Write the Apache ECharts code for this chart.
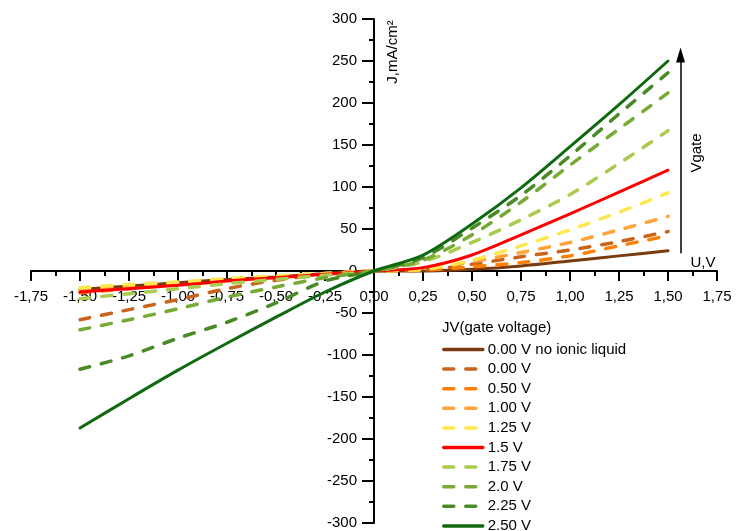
<!DOCTYPE html>
<html>
<head>
<meta charset="utf-8">
<script src="https://cdn.jsdelivr.net/npm/echarts@6/dist/echarts.min.js"></script>
<style>html,body{margin:0;padding:0;background:#fff}#c{width:736px;height:531px}</style>
</head>
<body>
<div id="c"></div>
<script>
// Voltage U (V)
var voltages = [-1.5, -1.25, -1.0, -0.75, -0.5, -0.25, 0, 0.25, 0.5, 0.75, 1.0, 1.25, 1.5];
// Current density J (mA/cm^2) per gate voltage
var seriesNames = ['0.00 V no ionic liquid', '0.00 V', '0.50 V', '1.00 V', '1.25 V', '1.5 V', '1.75 V', '2.0 V', '2.25 V', '2.50 V'];
var jNoIL  = [-22, -18, -14, -10, -7, -3, 0, 0, 2, 6, 12, 18, 24];
var j000   = [-58, -46, -34, -21, -11, -4, 0, 1, 8, 17, 25, 35, 47];
var j050   = [-26, -21, -16, -11, -7, -3, 0, 1, 5, 10, 18, 30, 42];
var j100   = [-22, -18, -14, -10, -6, -3, 0, 2, 11, 22, 34, 49, 65];
var j125   = [-20, -16, -13, -9, -6, -3, 0, 2, 13, 30, 49, 70, 93];
var j150   = [-25, -21, -17, -12, -8, -4, 0, 4, 19, 43, 68, 94, 120];
var j175   = [-33, -27, -21, -15, -10, -5, 0, 11, 34, 61, 91, 128, 167];
var j200   = [-70, -58, -45, -31, -19, -8, 0, 13, 43, 82, 126, 169, 212];
var j225   = [-117, -101, -80, -61, -38, -12, 0, 16, 51, 90, 137, 187, 236];
var j250   = [-187, -152, -118, -86, -55, -25, 0, 19, 56, 99, 148, 198, 250];
var seriesValues = [jNoIL, j000, j050, j100, j125, j150, j175, j200, j225, j250];
var xTickLabels = ['-1,75','-1,50','-1,25','-1,00','-0,75','-0,50','-0,25','0,00','0,25','0,50','0,75','1,00','1,25','1,50','1,75'];
// Gate arrow annotation (data coords)
var arrowX = 1.564, arrowFrom = 21, arrowTo = 257;

var colors = ['#7a3b0e', '#c8641c', '#ff8000', '#ffa33a', '#ffe84f', '#ff0000', '#a9cb4f', '#77aa35', '#4a8a25', '#0f6a0f'];
var dashed = [false, true, true, true, true, false, true, true, true, false];

var FONT = 'Arial, "Liberation Sans", sans-serif';
var GRID = { left: 31, right: 19, top: 19, bottom: 8 };
var W = 736, H = 531;
var gw = W - GRID.left - GRID.right, gh = H - GRID.top - GRID.bottom;

var series = seriesNames.map(function (name, i) {
  var s = {
    name: name,
    type: 'line',
    data: voltages.map(function (v, k) { return [v, seriesValues[i][k]]; }),
    showSymbol: false,
    symbol: 'none',
    smooth: 0.3,
    z: 2 + i,
    lineStyle: dashed[i]
      ? { color: colors[i], width: 3.5, type: [10, 12], cap: 'round' }
      : { color: colors[i], width: 3, type: 'solid', cap: 'round' },
    itemStyle: { color: colors[i] },
    emphasis: { disabled: true },
    silent: true
  };
  if (i === seriesNames.length - 1) {
    s.markLine = {
      silent: true,
      symbol: ['none', 'triangle'],
      symbolSize: [9, 15],
      label: { show: false },
      lineStyle: { color: '#000', width: 1.5, type: 'solid' },
      emphasis: { disabled: true },
      data: [[{ coord: [arrowX, arrowFrom] }, { coord: [arrowX, arrowTo] }]]
    };
  }
  return s;
});

var chart = echarts.init(document.getElementById('c'), null, { renderer: 'canvas' });
chart.setOption({
  animation: false,
  backgroundColor: '#fff',
  textStyle: { fontFamily: FONT },
  grid: { left: GRID.left, right: GRID.right, top: GRID.top, bottom: GRID.bottom, containLabel: false, outerBoundsMode: 'none' },
  title: {
    text: 'JV(gate voltage)', left: 442, top: 320,
    padding: 0,
    textStyle: { fontFamily: FONT, fontSize: 15, fontWeight: 'normal', color: '#000' }
  },
  legend: {
    orient: 'vertical', left: 442, top: 342, padding: 0, height: 215,
    itemWidth: 39, itemHeight: 12, itemGap: 4.6,
    data: seriesNames,
    itemStyle: { opacity: 0 },
    lineStyle: { width: 3.5 },
    textStyle: { fontFamily: FONT, fontSize: 15, color: '#000' },
    selectedMode: false
  },
  xAxis: {
    type: 'value', min: -1.75, max: 1.75, interval: 0.25,
    position: 'bottom', offset: -gh / 2,
    axisLine: { onZero: false, lineStyle: { color: '#000', width: 2 } },
    axisTick: { show: true, length: 10, lineStyle: { color: '#000', width: 2 } },
    minorTick: { show: true, splitNumber: 2, length: 5, lineStyle: { color: '#000', width: 2 } },
    splitLine: { show: false },
    axisLabel: {
      fontFamily: FONT, fontSize: 15, color: '#000', margin: 18,
      showMinLabel: true, showMaxLabel: true, hideOverlap: false,
      formatter: function (v) { return xTickLabels[Math.round((v + 1.75) / 0.25)]; }
    }
  },
  yAxis: {
    type: 'value', min: -300, max: 300, interval: 50,
    position: 'left', offset: -gw / 2,
    axisLine: { onZero: false, lineStyle: { color: '#000', width: 2 } },
    axisTick: { show: true, length: 12, lineStyle: { color: '#000', width: 2 } },
    minorTick: { show: true, splitNumber: 2, length: 5, lineStyle: { color: '#000', width: 2 } },
    splitLine: { show: false },
    axisLabel: { fontFamily: FONT, fontSize: 15, color: '#000', margin: 17, hideOverlap: false }
  },
  graphic: [
    { type: 'text', x: 393, y: 52, rotation: Math.PI / 2,
      style: { text: 'J,mA/cm²', fontFamily: FONT, fontSize: 15, fill: '#000', align: 'center', verticalAlign: 'middle' } },
    { type: 'text', x: 697, y: 153, rotation: Math.PI / 2,
      style: { text: 'Vgate', fontFamily: FONT, fontSize: 15, fill: '#000', align: 'center', verticalAlign: 'middle' } },
    { type: 'text', x: 703, y: 263,
      style: { text: 'U,V', fontFamily: FONT, fontSize: 15, fill: '#000', align: 'center', verticalAlign: 'middle' } }
  ],
  series: series
});
</script>
</body>
</html>
